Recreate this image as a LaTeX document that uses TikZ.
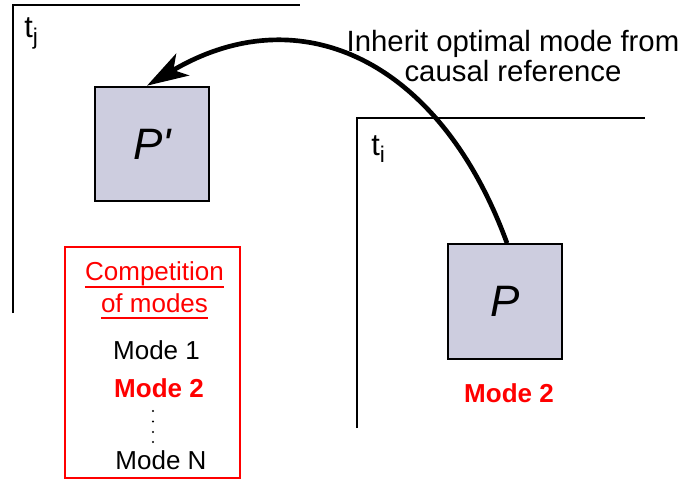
\documentclass[tikz,border=0pt]{standalone}
\usepackage{fontspec}
\setmainfont{Liberation Sans}
\newfontfamily\plainsans{Liberation Sans}
\usetikzlibrary{arrows.meta,calc}
\definecolor{boxfill}{RGB}{205,205,223}
\definecolor{myred}{RGB}{255,0,0}
\begin{document}
\begin{tikzpicture}[x=0.75pt,y=-0.75pt,
  frame/.style={line width=2pt},
  pbox/.style={draw, line width=1.5pt, fill=boxfill, minimum width=86pt, minimum height=86pt, inner sep=0pt, font=\fontsize{33}{33}\selectfont},
  tlab/.style={inner sep=0pt, anchor=base west, font=\fontsize{23}{23}\selectfont},
  boxtxt/.style={inner sep=0pt, anchor=base, font=\fontsize{19.5}{19.5}\selectfont},
  redtxt/.style={boxtxt, text=myred},
  boldred/.style={boxtxt, text=myred, font=\fontsize{19.5}{19.5}\selectfont\bfseries},
  uline/.style={draw=myred, line width=1.5pt},
  bigarrow/.style={line width=3.5pt, -{Stealth[length=31pt,width=19pt,inset=8pt]}}
]
\useasboundingbox (0,0) rectangle (683,490);

% frames
\draw[frame] (13,313) -- (13,5) -- (300,5);
\draw[frame] (357,428) -- (357,118) -- (645,118);

% frame labels
\node[tlab] (tj) at (24,37) {t\raisebox{-5.5pt}{\fontsize{17}{17}\selectfont j}};
\node[tlab] (ti) at (371,155) {t\raisebox{-5.5pt}{\fontsize{17}{17}\selectfont i}};

% boxes
\node[pbox] (Pp) at (152,144) {\plainsans\itshape P'};
\node[pbox] (P) at (505,301.5) {\itshape P};
\node[boldred] (m2P) at (509,402) {Mode 2};

% caption
\node[inner sep=0pt, anchor=north, align=center, font=\fontsize{22}{22.5}\selectfont] (cap) at (513,30) {Inherit optimal mode from\\causal reference};

% arrow
\coordinate (src) at ($(P.north)+(2,0)$);
\coordinate (dst) at ($(Pp.north)+(-5,0)$);
\draw[bigarrow] (src) .. controls (440,60) and (300,-5) .. (dst);

% competition box
\node[draw=myred, line width=1.5pt, minimum width=131.25pt, minimum height=173.25pt, inner sep=0pt] (comp) at (152.5,362.5) {};
\node[redtxt] (c1) at (154.5,280) {Competition};
\node[redtxt] (c2) at (154.5,312) {of modes};
\draw[uline] ($(c1.base west)+(0,7)$) -- ($(c1.base east)+(0,7)$);
\draw[uline] ($(c2.base west)+(0,6)$) -- ($(c2.base east)+(0,6)$);
\node[boxtxt] (m1) at (156.5,359) {Mode 1};
\node[boldred] (m2) at (159,397) {Mode 2};
\foreach \yy in {411,421.5,432,442} \fill (153,\yy) circle[radius=1.2];
\node[boxtxt] (mN) at (161,469) {Mode N};
\end{tikzpicture}
\end{document}
